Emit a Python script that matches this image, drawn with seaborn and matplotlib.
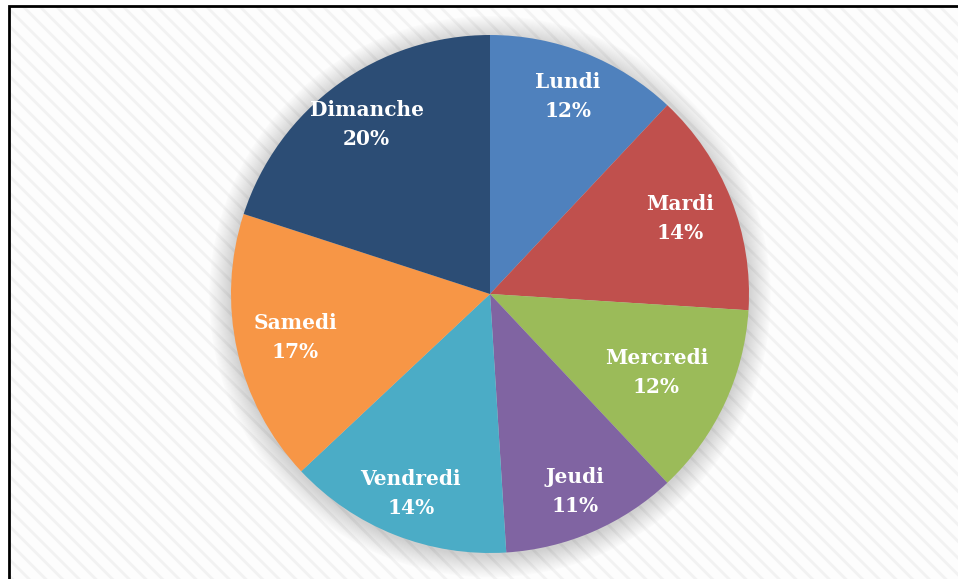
import matplotlib
matplotlib.use('Agg')
import numpy as np
import matplotlib.pyplot as plt
from matplotlib.patches import Rectangle, Circle
import seaborn as sns

# jours de la semaine et part (%)
jours = ['Lundi', 'Mardi', 'Mercredi', 'Jeudi', 'Vendredi', 'Samedi', 'Dimanche']
parts = [12, 14, 12, 11, 14, 17, 20]
couleurs = ['#4F81BD', '#C0504D', '#9BBB59', '#8064A2', '#4BACC6', '#F79646', '#2C4D75']
# label distance from centre (fraction of radius), as placed by the original
dist_labels = [0.82, 0.79, 0.71, 0.83, 0.83, 0.77, 0.81]

sns.set_theme(style='white')
plt.rcParams['font.family'] = ['DejaVu Serif']
plt.rcParams['hatch.linewidth'] = 2.0

W, H, DPI = 958, 579, 100
fig = plt.figure(figsize=(W / DPI, H / DPI), dpi=DPI)
fig.patch.set_facecolor('white')

# hatched background + frame (frame runs off right/bottom edges)
x0, y0 = 9 / W, 6 / H
fig.patches.append(Rectangle((x0, -0.05), 1.1, 1 - y0 + 0.05, transform=fig.transFigure,
                             facecolor='#FDFDFD', edgecolor='#F2F2F2', hatch='\\\\', lw=0, zorder=-3))
fig.patches.append(Rectangle((x0, -0.05), 1.1, 1 - y0 + 0.05, transform=fig.transFigure,
                             facecolor='none', edgecolor='black', lw=2, zorder=-2))

ax = fig.add_axes([0, 0, 1, 1])
ax.set_facecolor('none')

# soft shadow around the pie
for i in range(22):
    ax.add_patch(Circle((0, -0.01), 1.0 + i * 0.004, facecolor='#505050', alpha=0.013, lw=0, zorder=0))

labels_iter = iter(jours)
wedges, texts, autotexts = ax.pie(
    parts, colors=couleurs, startangle=90, counterclock=False,
    autopct=lambda p: f'{next(labels_iter)}\n{p:.0f}%', pctdistance=0.81,
    wedgeprops=dict(linewidth=0),
    textprops=dict(color='white', fontsize=14.5, fontweight='bold', linespacing=1.55),
)
for w, t, d in zip(wedges, autotexts, dist_labels):
    w.set_zorder(2)
    ang = np.deg2rad((w.theta1 + w.theta2) / 2)
    t.set_position((d * np.cos(ang), d * np.sin(ang)))
    t.set_zorder(3)

cx, cy, R = 490, 294, 259
ax.set_xlim(-cx / R, (W - cx) / R)
ax.set_ylim(-(H - cy) / R, cy / R)
ax.set_aspect('auto')
ax.axis('off')

fig.savefig('out.png', dpi=DPI)
